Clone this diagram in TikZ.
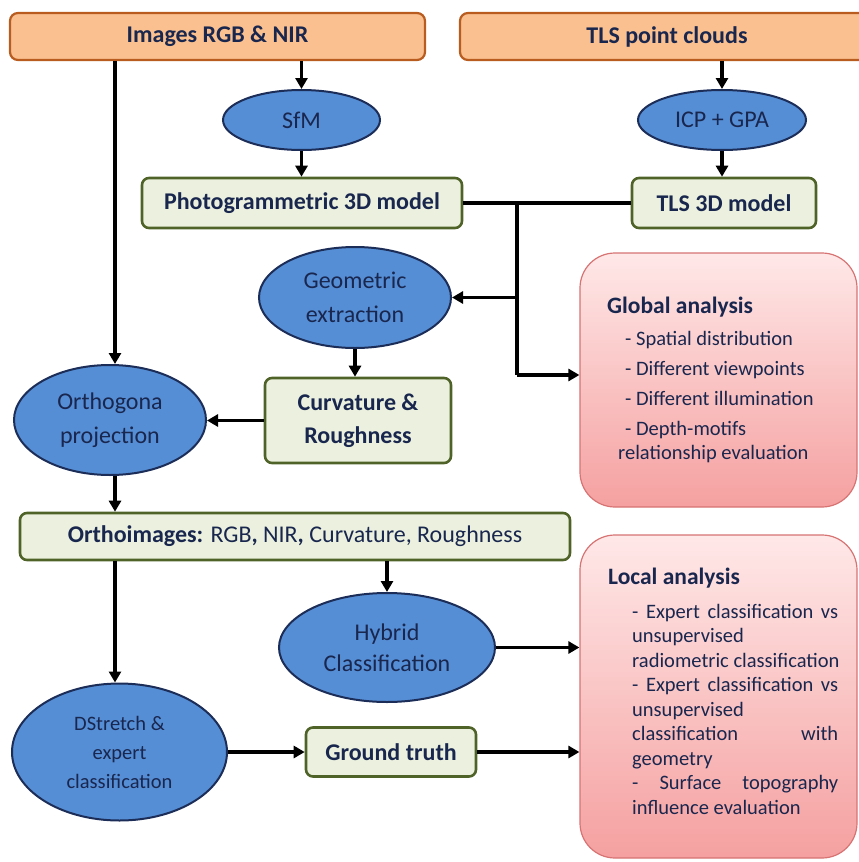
\documentclass[tikz,border=0pt]{standalone}
\usepackage{fontspec}
\setmainfont{Carlito}
\usetikzlibrary{shapes.geometric,arrows.meta}
\definecolor{txt}{RGB}{25,38,78}
\definecolor{ofill}{RGB}{250,192,143}
\definecolor{obrd}{RGB}{185,92,32}
\definecolor{gfill}{RGB}{235,241,222}
\definecolor{gbrd}{RGB}{79,98,40}
\definecolor{efill}{RGB}{85,142,213}
\definecolor{ebrd}{RGB}{28,45,88}
\definecolor{ptop}{RGB}{255,232,232}
\definecolor{pbot}{RGB}{245,160,160}
\definecolor{pbrd}{RGB}{215,115,115}
\begin{document}
\begin{tikzpicture}[x=1pt,y=-1pt,
  orangebox/.style={draw=obrd, fill=ofill, line width=2.2pt, rounded corners=8pt, text=txt, inner sep=0pt, font=\fontsize{24}{28}\selectfont\bfseries},
  greenbox/.style={draw=gbrd, fill=gfill, line width=2.6pt, rounded corners=7pt, text=txt, inner sep=0pt, align=center, font=\fontsize{24}{33}\selectfont\bfseries},
  oval/.style={ellipse, draw=ebrd, fill=efill, line width=2pt, inner sep=0pt, text=txt, align=center, font=\fontsize{24}{34}\selectfont},
  pinkbox/.style={draw=pbrd, top color=ptop, bottom color=pbot, rounded corners=35pt, line width=1.2pt, inner sep=0pt},
  arr/.style={line width=3.4pt, -{Triangle[length=11pt,width=12pt]}},
  ln/.style={line width=3.4pt}]
\useasboundingbox (0,0) rectangle (859,862);
% top sources
\node[orangebox, minimum width=415, minimum height=47] (img) at (217.5,36.5) {Images RGB \& NIR};
\node[orangebox, minimum width=414, minimum height=47] (tls) at (667,36.5) {TLS point clouds};
% ovals and boxes
\node[oval, minimum width=157, minimum height=60] (sfm) at (301.5,120) {SfM};
\node[oval, minimum width=168, minimum height=60] (icp) at (722,120) {ICP + GPA};
\node[greenbox, minimum width=320, minimum height=50] (photo) at (302,203) {Photogrammetric 3D model};
\node[greenbox, minimum width=184, minimum height=50] (tls3d) at (724,203) {TLS 3D model};
\node[oval, minimum width=192, minimum height=101] (geo) at (355,297.5) {Geometric\\extraction};
\node[greenbox, minimum width=186, minimum height=85] (curv) at (358,420.5) {Curvature \&\\Roughness};
\node[oval, minimum width=192, minimum height=110] (ortho) at (110,420) {Orthogona\\projection};
\node[greenbox, minimum width=550, minimum height=47, font=\fontsize{24}{28}\selectfont] (orthoimg) at (295,536.5) {\textbf{Orthoimages:} RGB\textbf{,} NIR\textbf{,} Curvature, Roughness};
\node[oval, minimum width=216, minimum height=109, font=\fontsize{24}{31}\selectfont] (hyb) at (387,647.5) {Hybrid\\Classification};
\node[oval, minimum width=215, minimum height=137, font=\fontsize{20.5}{29}\selectfont] (dst) at (119.5,752) {DStretch \&\\expert\\classification};
\node[greenbox, minimum width=170, minimum height=49] (gt) at (391,752) {Ground truth};
% analysis boxes
\node[pinkbox, minimum width=277, minimum height=254] (glob) at (718.5,380) {};
\node[pinkbox, minimum width=277, minimum height=323] (loc) at (718.5,696.5) {};
\node[anchor=north west, align=left, text=txt, inner sep=0pt, font=\fontsize{20.5}{24}\selectfont] (globtxt) at (607,297) {{\fontsize{23.5}{24}\selectfont\bfseries Global analysis}\\[8pt]
\hspace*{18pt}- Spatial distribution\\[6pt]
\hspace*{18pt}- Different viewpoints\\[6pt]
\hspace*{18pt}- Different illumination\\[6pt]
\hspace*{18pt}- Depth-motifs\\
\hspace*{11pt}relationship evaluation};
\node[anchor=north west, align=left, text=txt, inner sep=0pt, font=\fontsize{20.5}{24.5}\selectfont] (loctxt) at (608,568) {{\fontsize{23.5}{24}\selectfont\bfseries Local analysis}\\[9pt]
\hspace*{24pt}\makebox[206pt][s]{- Expert classification vs}\\
\hspace*{24pt}unsupervised\\
\hspace*{24pt}radiometric classification\\
\hspace*{24pt}\makebox[206pt][s]{- Expert classification vs}\\
\hspace*{24pt}unsupervised\\
\hspace*{24pt}\makebox[206pt][s]{classification with}\\
\hspace*{24pt}geometry\\
\hspace*{24pt}\makebox[206pt][s]{- Surface topography}\\
\hspace*{24pt}influence evaluation};
% connectors
\coordinate (lx) at (115,0);
\coordinate (j1) at (517,203);
\coordinate (j2) at (517,297.5);
\coordinate (j3) at (517,375);
\draw[arr] (img.south -| sfm.north) -- (sfm.north);
\draw[arr] (sfm.south) -- (sfm.south |- photo.north);
\draw[arr] (tls.south -| icp.north) -- (icp.north);
\draw[arr] (icp.south) -- (icp.south |- tls3d.north);
\draw[ln] (photo.east) -- (tls3d.west);
\draw[ln] (j1) -- (j3);
\draw[arr] (j3) -- (j3 -| glob.west);
\draw[arr] (j2) -- (geo.east);
\draw[arr] (geo.south) -- (geo.south |- curv.north);
\draw[arr] (curv.west) -- (curv.west -| ortho.east);
\draw[arr] (img.south -| lx) -- (ortho.north -| lx);
\draw[arr] (ortho.south -| lx) -- (orthoimg.north -| lx);
\draw[arr] (orthoimg.south -| lx) -- (dst.north -| lx);
\draw[arr] (orthoimg.south -| hyb.north) -- (hyb.north);
\draw[arr] (hyb.east) -- (hyb.east -| loc.west);
\draw[arr] (dst.east) -- (gt.west);
\draw[arr] (gt.east) -- (gt.east -| loc.west);
\end{tikzpicture}
\end{document}
